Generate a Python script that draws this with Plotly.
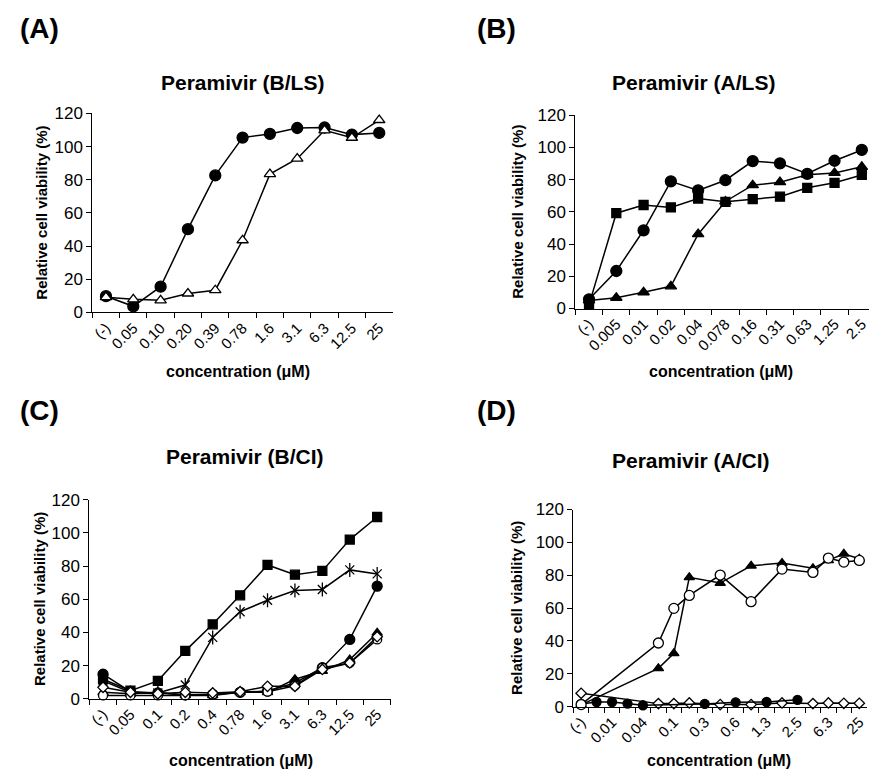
import plotly.graph_objects as go

W, H = 869, 780

# ---------------- data ----------------
cats_A = ["(-)", "0.05", "0.10", "0.20", "0.39", "0.78", "1.6", "3.1", "6.3", "12.5", "25"]
A_circle = [9.8, 3.7, 15.5, 50.2, 82.6, 105.4, 107.6, 111.2, 111.5, 107.2, 108.2]
A_triangle_open = [9.2, 7.9, 7.3, 11.4, 13.4, 43.5, 83.4, 92.7, 109.8, 105.3, 116.0]

cats_B = ["(-)", "0.005", "0.01", "0.02", "0.04", "0.078", "0.16", "0.31", "0.63", "1.25", "2.5"]
B_circle = [5.7, 23.3, 48.6, 79.0, 73.4, 79.7, 91.6, 90.2, 83.7, 91.8, 98.5]
B_triangle = [5.0, 6.7, 10.1, 13.8, 46.2, 66.5, 76.6, 78.5, 83.1, 84.2, 88.0]
B_square = [2.4, 59.2, 64.3, 62.8, 68.3, 66.3, 67.9, 69.5, 75.0, 78.1, 83.0]

cats_C = ["(-)", "0.05", "0.1", "0.2", "0.4", "0.78", "1.6", "3.1", "6.3", "12.5", "25"]
C_square = [11.8, 4.9, 10.8, 28.9, 44.9, 62.4, 80.7, 74.8, 77.1, 96.0, 109.6]
C_star = [10.8, 3.9, 3.5, 8.3, 37.0, 52.5, 59.4, 65.3, 65.9, 77.7, 75.3]
C_circle = [14.8, 4.3, 3.5, 2.4, 2.6, 3.9, 4.7, 9.5, 18.7, 35.8, 67.9]
C_triangle = [3.9, 3.0, 3.9, 2.0, 2.0, 3.9, 3.9, 11.8, 16.7, 23.6, 39.7]
C_circle_open = [2.0, 2.0, 2.0, 2.0, 2.6, 3.9, 4.3, 7.9, 18.7, 21.6, 35.8]
C_diamond_open = [6.9, 3.9, 3.0, 3.9, 3.5, 4.3, 7.5, 7.5, 17.7, 21.6, 37.4]

cats_D = ["(-)", "0.005", "0.01", "0.02", "0.04", "0.05", "0.1", "0.2", "0.31", "0.4",
          "0.63", "0.78", "1.25", "1.6", "2.5", "3.1", "6.3", "12.5", "25"]
ticktext_D = ["(-)", "", "0.01", "", "0.04", "", "0.1", "", "0.3", "",
              "0.6", "", "1.3", "", "2.5", "", "6.3", "", "25"]
D_low_conc = ["(-)", "0.005", "0.01", "0.02", "0.04", "0.31", "0.63", "1.25", "2.5"]
D_circle = [1.6, 2.8, 2.8, 1.8, 0.8, 1.6, 2.6, 2.8, 4.1]
D_high_conc = ["(-)", "0.05", "0.1", "0.2", "0.4", "0.78", "1.6", "3.1", "6.3", "12.5", "25"]
D_circle_open = [1.2, 38.7, 59.8, 67.7, 80.1, 63.9, 83.7, 81.7, 90.4, 88.0, 89.0]
D_triangle = [1.0, 23.3, 32.4, 78.7, 75.2, 85.7, 87.4, 84.2, 89.0, 93.0, 90.0]
D_diamond_open = [8.1, 1.8, 1.8, 2.2, 1.2, 1.2, 2.2, 1.8, 2.2, 2.0, 2.0]

FONT = "Arial, Liberation Sans, sans-serif"


def px_x(p):
    return p / W


def px_y(p):
    return 1 - p / H


fig = go.Figure()


def add(xs, ys, ax, symbol, fill, size=10, mode="lines+markers", lw=1.5):
    fig.add_trace(go.Scatter(
        x=xs, y=ys, xaxis="x" + ax, yaxis="y" + ax, mode=mode,
        line=dict(color="black", width=lw),
        marker=dict(symbol=symbol, size=size, color=fill,
                    line=dict(color="black", width=1.3)),
        cliponaxis=False, showlegend=False, hoverinfo="x+y"))


# Panel A
add(cats_A, A_circle, "", "circle", "black", 11)
add(cats_A, A_triangle_open, "", "triangle-up", "white", 10)
# Panel B
add(cats_B, B_circle, "2", "circle", "black", 11)
add(cats_B, B_triangle, "2", "triangle-up", "black", 10)
add(cats_B, B_square, "2", "square", "black", 9)
# Panel C
add(cats_C, C_square, "3", "square", "black", 9)
add(cats_C, C_star, "3", "x-thin-open", "black", 9)
add(cats_C, C_star, "3", "line-ns-open", "black", 10, mode="markers")
add(cats_C, C_circle, "3", "circle", "black", 10)
add(cats_C, C_triangle, "3", "triangle-up", "black", 9)
add(cats_C, C_circle_open, "3", "circle", "white", 9)
add(cats_C, C_diamond_open, "3", "diamond", "white", 8)
# Panel D
add(D_high_conc, D_diamond_open, "4", "diamond", "white", 8)
add(D_low_conc, D_circle, "4", "circle", "black", 9)
add(D_high_conc, D_triangle, "4", "triangle-up", "black", 9)
add(D_high_conc, D_circle_open, "4", "circle", "white", 10)


def xaxis(domain, cats, rng, anchor, ticktext=None):
    d = dict(domain=domain, anchor=anchor, type="category", categoryorder="array",
             categoryarray=cats, range=rng, tickson="boundaries", ticks="outside",
             ticklen=5, tickcolor="black", tickwidth=1, showline=True,
             linecolor="black", linewidth=1, tickangle=-45, showgrid=False,
             zeroline=False, tickfont=dict(family=FONT, size=15, color="black"))
    if ticktext is not None:
        d.update(tickmode="array", tickvals=cats, ticktext=ticktext)
    return d


def yaxis(domain, anchor):
    return dict(domain=domain, anchor=anchor, range=[0, 120], dtick=20,
                ticks="outside", ticklen=5, tickcolor="black", showline=True,
                linecolor="black", linewidth=1, showgrid=False, zeroline=False,
                tickfont=dict(family=FONT, size=17, color="black"))


fig.update_layout(
    width=W, height=H, margin=dict(l=0, r=0, t=0, b=0),
    paper_bgcolor="white", plot_bgcolor="white",
    xaxis=xaxis([px_x(86), px_x(389)], cats_A, [-0.5, 10.5], "y"),
    yaxis=yaxis([px_y(311), px_y(107)], "x"),
    xaxis2=xaxis([px_x(573), 1.0], cats_B, [-0.5, -0.5 + 296 / 27.5], "y2"),
    yaxis2=yaxis([px_y(307), px_y(109)], "x2"),
    xaxis3=xaxis([px_x(83), px_x(387)], cats_C, [-0.5, 10.5], "y3"),
    yaxis3=yaxis([px_y(707), px_y(503)], "x3"),
    xaxis4=xaxis([px_x(571), px_x(867)], cats_D, [-0.5, 18.5], "y4", ticktext_D),
    yaxis4=yaxis([px_y(715), px_y(513)], "x4"),
)

ann = []


def text(x, y, s, size, bold=True, angle=0):
    ann.append(dict(x=px_x(x), y=px_y(y), xref="paper", yref="paper",
                    text=f"<b>{s}</b>" if bold else s, showarrow=False,
                    textangle=angle, xanchor="center", yanchor="middle",
                    font=dict(family=FONT, size=size, color="black")))


# panel labels
text(33, 20, "(A)", 28)
text(493, 20, "(B)", 28)
text(33, 412, "(C)", 28)
text(493, 412, "(D)", 28)
# titles
text(237, 75, "Peramivir (B/LS)", 21)
text(692, 75, "Peramivir (A/LS)", 21)
text(240, 459, "Peramivir (B/CI)", 21)
text(690, 463, "Peramivir (A/CI)", 21)
# y titles
text(35, 209, "Relative cell viability (%)", 15, angle=-90)
text(515, 208, "Relative cell viability (%)", 15, angle=-90)
text(33, 605, "Relative cell viability (%)", 15, angle=-90)
text(513, 614, "Relative cell viability (%)", 15, angle=-90)
# x titles
text(233, 372, "concentration (μM)", 16)
text(720, 372, "concentration (μM)", 16)
text(236, 770, "concentration (μM)", 16)
text(718, 770, "concentration (μM)", 16)

fig.update_layout(annotations=ann)
fig.write_html("out.html", config={"displayModeBar": False},
               post_script="document.body.style.margin='0';document.body.style.overflow='hidden';")
